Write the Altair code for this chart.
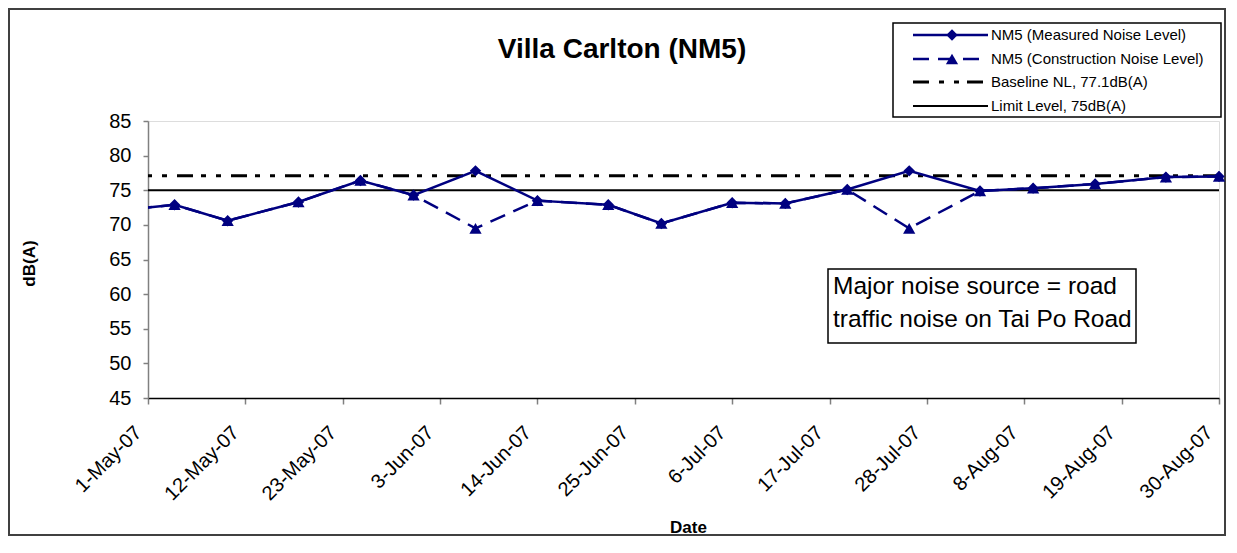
import altair as alt
import pandas as pd

# ---------------- data ----------------
dates = ["2007-04-24", "2007-05-04", "2007-05-10", "2007-05-18", "2007-05-25",
         "2007-05-31", "2007-06-07", "2007-06-14", "2007-06-22", "2007-06-28",
         "2007-07-06", "2007-07-12", "2007-07-19", "2007-07-26", "2007-08-03",
         "2007-08-09", "2007-08-16", "2007-08-24", "2007-08-30"]
measured = [71.6, 72.9, 70.6, 73.3, 76.4, 74.3, 77.8, 73.5, 72.9, 70.2,
            73.2, 73.1, 75.1, 77.8, 74.9, 75.3, 75.9, 76.9, 77.0]
construction = [71.6, 72.9, 70.6, 73.3, 76.4, 74.3, 69.5, 73.5, 72.9, 70.2,
                73.2, 73.1, 75.1, 69.5, 74.9, 75.3, 75.9, 76.9, 77.0]
baseline_level = [77.1]
limit_level = [75.0]
tick_dates = ["2007-05-01", "2007-05-12", "2007-05-23", "2007-06-03", "2007-06-14",
              "2007-06-25", "2007-07-06", "2007-07-17", "2007-07-28", "2007-08-08",
              "2007-08-19", "2007-08-30"]
y_ticks = [45, 50, 55, 60, 65, 70, 75, 80, 85]
series_names = ["NM5 (Measured Noise Level)", "NM5 (Construction Noise Level)",
                "Baseline NL, 77.1dB(A)", "Limit Level, 75dB(A)"]
chart_title = "Villa Carlton (NM5)"
note_lines = ["Major noise source = road", "traffic noise on Tai Po Road"]

NAVY = "#000080"
FONT = "Liberation Sans"


def ms(d):
    return int(pd.Timestamp(d, tz="UTC").value // 10**6)


df = pd.DataFrame({"date": dates, "measured": measured, "construction": construction})
df_marks = df[df["date"] >= tick_dates[0]]

x_enc = alt.X(
    "date:T",
    scale=alt.Scale(type="utc", domain=[ms(tick_dates[0]), ms(tick_dates[-1])]),
    axis=alt.Axis(
        values=[ms(d) for d in tick_dates],
        labelExpr="utcFormat(datum.value, '%-d-%b-%y')",
        labelAngle=-45, labelFontSize=20, labelFont=FONT, labelColor="black",
        labelPadding=18, labelOffset=-17, labelFlush=False, labelOverlap=False,
        tickSize=6, tickColor="#808080", tickWidth=1.5,
        domainColor="black", domainWidth=1.5, grid=False,
        title="Date", titleFontSize=17, titleFont=FONT, titleFontWeight="bold",
        titleColor="black", titleX=540, titleY=129, titleBaseline="middle",
    ),
)
y_scale = alt.Scale(domain=[45, 85], nice=False, zero=False)
y_axis = alt.Axis(
    values=y_ticks, labelFontSize=20, labelFont=FONT, labelColor="black",
    labelPadding=12, tickSize=5, tickColor="#808080", tickWidth=1.5,
    domainColor="#808080", domainWidth=1.5, grid=False,
    title="dB(A)", titleFontSize=17, titleFont=FONT, titleFontWeight="bold",
    titleColor="black", titleX=-110, titleY=142,
)

# ---------------- data layers ----------------
limit_rule = alt.Chart(pd.DataFrame({"v": limit_level})).mark_rule(
    color="black", strokeWidth=2).encode(y=alt.Y("v:Q", scale=y_scale, axis=y_axis))
base_rule = alt.Chart(pd.DataFrame({"v": baseline_level})).mark_rule(
    color="black", strokeWidth=3, strokeDash=[16, 10, 5, 10, 5, 8]).encode(
    y=alt.Y("v:Q", scale=y_scale, axis=y_axis))

cons_line = alt.Chart(df).mark_line(color=NAVY, strokeWidth=2.5, strokeDash=[16, 9],
                                    clip=True).encode(
    x=x_enc, y=alt.Y("construction:Q", scale=y_scale, axis=y_axis))
meas_line = alt.Chart(df).mark_line(color=NAVY, strokeWidth=2.5, clip=True).encode(
    x=x_enc, y=alt.Y("measured:Q", scale=y_scale, axis=y_axis))
meas_pts = alt.Chart(df_marks).mark_point(shape="diamond", filled=True, color=NAVY,
                                          size=130, opacity=1).encode(
    x=x_enc, y=alt.Y("measured:Q", scale=y_scale, axis=y_axis))
cons_pts = alt.Chart(df_marks).mark_point(shape="triangle-up", filled=True, color=NAVY,
                                          size=150, opacity=1).encode(
    x=x_enc, y=alt.Y("construction:Q", scale=y_scale, axis=y_axis))

one = pd.DataFrame({"k": [0]})

# ---------------- decorations (pixel positioned) ----------------
border = alt.Chart(one).mark_rect(fillOpacity=0, stroke="#404040", strokeWidth=2).encode(
    x=alt.value(-139), x2=alt.value(1077), y=alt.value(-112), y2=alt.value(414))

title = alt.Chart(one).mark_text(text=chart_title, font=FONT, fontSize=28,
                                 fontWeight="bold", color="black", align="center",
                                 baseline="middle").encode(
    x=alt.value(474), y=alt.value(-71))

legend_box = alt.Chart(one).mark_rect(fill="white", stroke="black", strokeWidth=1.5).encode(
    x=alt.value(745), x2=alt.value(1073), y=alt.value(-98), y2=alt.value(-4))
ly = [-86, -62, -39, -15]
lx0, lx1, lmid, ltx = 765, 840, 804, 843
leg = [legend_box]
leg.append(alt.Chart(one).mark_rule(color=NAVY, strokeWidth=2.5).encode(
    x=alt.value(lx0), x2=alt.value(lx1), y=alt.value(ly[0])))
leg.append(alt.Chart(one).mark_point(shape="diamond", filled=True, color=NAVY, size=130,
                                     opacity=1).encode(x=alt.value(lmid), y=alt.value(ly[0])))
leg.append(alt.Chart(one).mark_rule(color=NAVY, strokeWidth=2.5, strokeDash=[16, 9]).encode(
    x=alt.value(lx0), x2=alt.value(lx1), y=alt.value(ly[1])))
leg.append(alt.Chart(one).mark_point(shape="triangle-up", filled=True, color=NAVY, size=150,
                                     opacity=1).encode(x=alt.value(lmid), y=alt.value(ly[1])))
leg.append(alt.Chart(one).mark_rule(color="black", strokeWidth=3,
                                    strokeDash=[16, 10, 5, 10, 5, 8]).encode(
    x=alt.value(lx0), x2=alt.value(lx1), y=alt.value(ly[2])))
leg.append(alt.Chart(one).mark_rule(color="black", strokeWidth=2).encode(
    x=alt.value(lx0), x2=alt.value(lx1), y=alt.value(ly[3])))
for name, yy in zip(series_names, ly):
    leg.append(alt.Chart(one).mark_text(text=name, font=FONT, fontSize=15, color="black",
                                        align="left", baseline="middle").encode(
        x=alt.value(ltx), y=alt.value(yy)))

note_box = alt.Chart(one).mark_rect(fill="white", stroke="black", strokeWidth=1.5).encode(
    x=alt.value(680), x2=alt.value(988), y=alt.value(148), y2=alt.value(222))
notes = [note_box]
for line, yy in zip(note_lines, [166, 199]):
    notes.append(alt.Chart(one).mark_text(text=line, font=FONT, fontSize=24.5, color="black",
                                          align="left", baseline="middle").encode(
        x=alt.value(685), y=alt.value(yy)))

chart = alt.layer(
    border, limit_rule, base_rule, cons_line, meas_line, meas_pts, cons_pts,
    title, *leg, *notes,
).properties(
    width=1071, height=277,
    autosize=alt.AutoSizeParams(type="none"),
    padding={"left": 140, "top": 113, "right": 8, "bottom": 140},
    background="white",
).configure_view(stroke=None).configure(font=FONT)

chart.save("out.html", embed_options={"renderer": "svg", "actions": False})
